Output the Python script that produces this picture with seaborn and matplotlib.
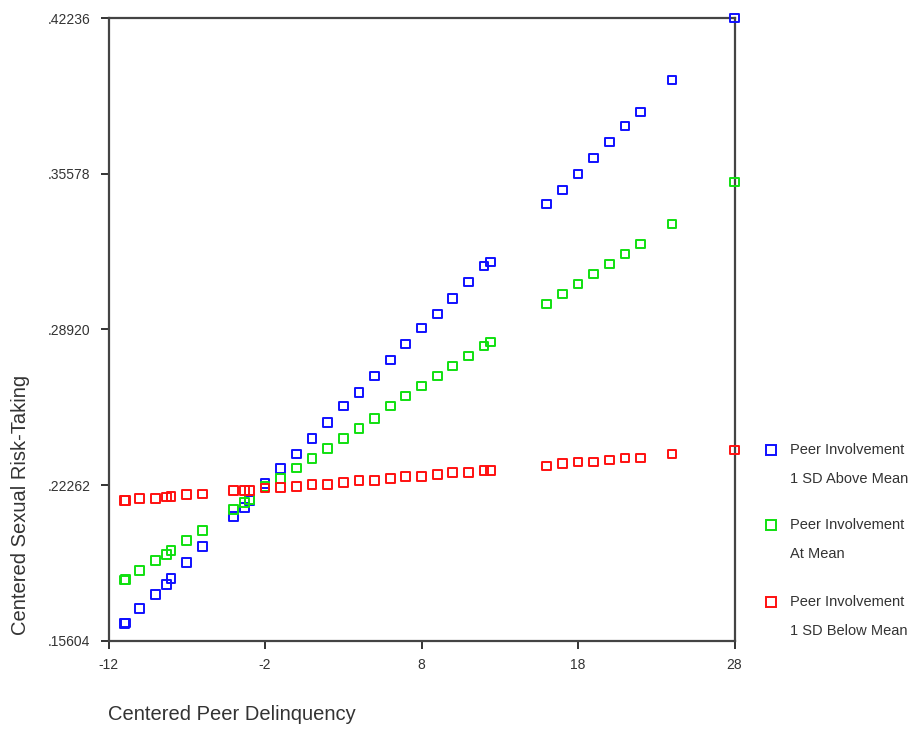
import matplotlib
matplotlib.use("Agg")
import matplotlib.pyplot as plt
from matplotlib.lines import Line2D
import seaborn as sns
import pandas as pd

sns.set_style("white")
plt.rcParams['font.family'] = ['Liberation Sans', 'DejaVu Sans']

# ---- data -------------------------------------------------------------
x_vals = [-11, -10.9, -10, -9, -8.3, -8, -7, -6, -4, -3.3, -3, -2, -1,
          0, 1, 2, 3, 4, 5, 6, 7, 8, 9, 10, 11, 12, 12.4,
          16, 17, 18, 19, 20, 21, 22, 24, 28]

above_mean = [0.1635, 0.1637, 0.16985, 0.1760, 0.18028, 0.18267, 0.18951,
              0.19635, 0.20918, 0.21311, 0.2161, 0.22328, 0.22991,
              0.23598, 0.24269, 0.24953, 0.2565, 0.26235, 0.26932, 0.27616,
              0.2830, 0.28984, 0.29583, 0.30254, 0.30951, 0.31635, 0.31805,
              0.34285, 0.34883, 0.35567, 0.36251, 0.36935, 0.37619, 0.38218,
              0.39586, 0.42236]

at_mean = [0.18212, 0.18225, 0.18609, 0.19037, 0.19293, 0.19464, 0.19892,
           0.20319, 0.21234, 0.21525, 0.21661, 0.22209, 0.22559,
           0.22999, 0.23414, 0.23842, 0.24269, 0.24697, 0.25124, 0.2565,
           0.26077, 0.26505, 0.26932, 0.2736, 0.27787, 0.28215, 0.28386,
           0.3001, 0.30438, 0.30865, 0.31293, 0.3172, 0.32147, 0.32575,
           0.3343, 0.35225]

below_mean = [0.2161, 0.2161, 0.21687, 0.21687, 0.2176, 0.21773, 0.21858,
              0.21888, 0.22038, 0.22038, 0.22038, 0.22144, 0.22157,
              0.2220, 0.22286, 0.22286, 0.22388, 0.22474, 0.22474, 0.22559,
              0.22627, 0.22627, 0.2273, 0.22798, 0.22798, 0.22884, 0.22884,
              0.23085, 0.2320, 0.23256, 0.23256, 0.23341, 0.23427, 0.23427,
              0.23598, 0.23769]

series_names = ["Peer Involvement\n1 SD Above Mean",
                "Peer Involvement\nAt Mean",
                "Peer Involvement\n1 SD Below Mean"]
series_colors = ["#1010ff", "#10e010", "#ff1010"]

x_ticks = [-12, -2, 8, 18, 28]
y_ticks = [0.15604, 0.22262, 0.28920, 0.35578, 0.42236]
y_tick_labels = [".15604", ".22262", ".28920", ".35578", ".42236"]

# ---- figure -----------------------------------------------------------
fig = plt.figure(figsize=(9.16, 7.30), dpi=100)
W, H = 916, 730
left, right, top, bottom = 108.5, 734.5, 18, 641
ax = fig.add_axes([left / W, 1 - bottom / H, (right - left) / W, (bottom - top) / H])

for vals, col in zip([above_mean, at_mean, below_mean], series_colors):
    df = pd.DataFrame({"x": x_vals, "y": vals})
    sns.scatterplot(data=df, x="x", y="y", ax=ax, marker="s", s=40,
                    facecolor="none", edgecolor=col, linewidth=1.4,
                    clip_on=False, zorder=3)

ax.set_xlim(-12, 28)
ax.set_ylim(0.15604, 0.42236)
ax.set_xticks(x_ticks)
ax.set_xticklabels([str(t) for t in x_ticks])
ax.set_yticks(y_ticks)
ax.set_yticklabels(y_tick_labels)
ax.tick_params(axis="both", direction="out", length=6, width=1.4,
               color="#333333", labelsize=10, labelcolor="#333333",
               bottom=True, left=True)
ax.tick_params(axis="y", pad=7)
ax.tick_params(axis="x", pad=6)
for sp in ax.spines.values():
    sp.set_visible(True)
    sp.set_color("#444444")
    sp.set_linewidth(1.6)
ax.set_xlabel("")
ax.set_ylabel("")

fig.text(108 / W, 1 - 715 / H, "Centered Peer Delinquency", ha="left",
         va="center", fontsize=14.5, color="#333333")
fig.text(21 / W, 1 - 505 / H, "Centered Sexual Risk-Taking", ha="center",
         va="center", rotation=90, fontsize=14.5, color="#333333")

# ---- legend -----------------------------------------------------------
leg_y = [450, 525, 602]
for name, col, yy in zip(series_names, series_colors, leg_y):
    fig.add_artist(Line2D([771 / W], [1 - yy / H], marker="s", markersize=6.5,
                          markerfacecolor="none", markeredgecolor=col,
                          markeredgewidth=1.4, linestyle="none",
                          transform=fig.transFigure))
    l1, l2 = name.split("\n")
    fig.text(790 / W, 1 - yy / H, l1, ha="left", va="center", fontsize=10.5,
             color="#333333")
    fig.text(790 / W, 1 - (yy + 29) / H, l2, ha="left", va="center",
             fontsize=10.5, color="#333333")

fig.savefig("out.png", dpi=100, facecolor="white")
